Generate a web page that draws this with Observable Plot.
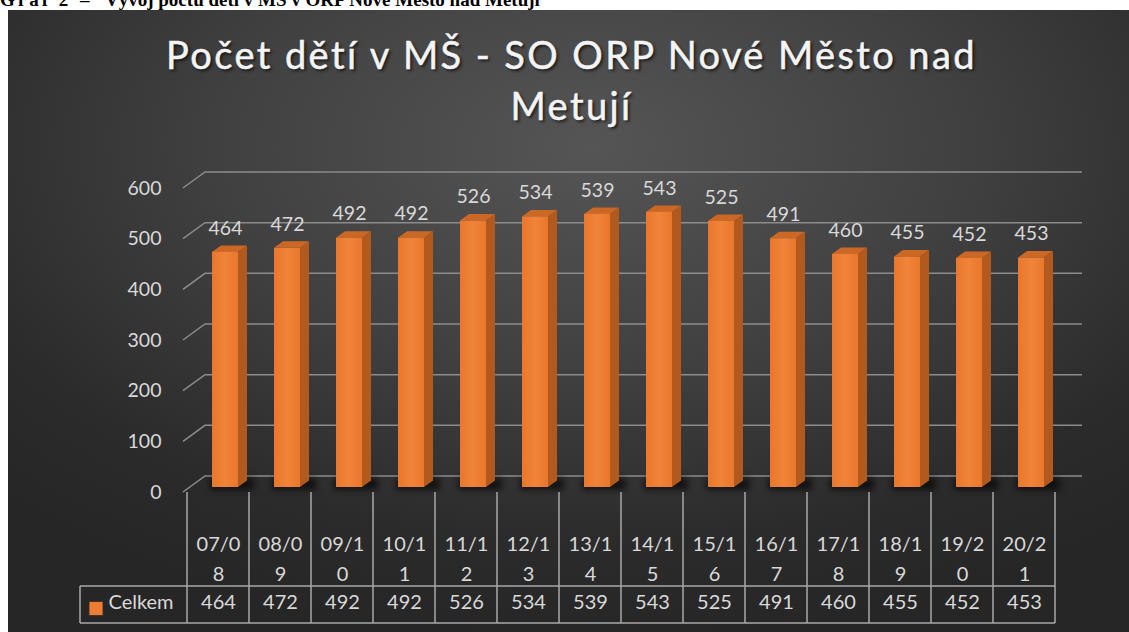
<!DOCTYPE html>
<html><head><meta charset="utf-8">
<script src="https://cdn.jsdelivr.net/npm/d3@7"></script>
<script src="https://cdn.jsdelivr.net/npm/@observablehq/plot@0.6"></script>
<style>
html,body{margin:0;padding:0;background:#fff;}
body{width:1129px;height:632px;position:relative;overflow:hidden;font-family:Lato,sans-serif;}
.cap{position:absolute;top:-10px;font:bold 19px/20px "Liberation Serif","Times New Roman",serif;white-space:pre;color:#000;}
#panel{position:absolute;left:8px;top:10px;width:1121px;height:622px;
  background:radial-gradient(ellipse 75% 80% at 52% 22%, #555555 0%, #404040 45%, #2b2b2b 80%, #262626 100%);}
#title{position:absolute;left:11px;width:1121px;top:29px;text-align:center;color:#f4f4f4;
  font-family:Lato,sans-serif;font-size:38px;line-height:51px;letter-spacing:2.4px;
  -webkit-text-stroke:0.5px #f4f4f4;
  text-shadow:2px 2px 3px rgba(0,0,0,0.65);}
#plot{position:absolute;left:0;top:140px;}
#plot svg{overflow:visible;background:transparent;}
</style></head><body>
<div class="cap" style="left:0;letter-spacing:3px;">Graf 2</div>
<div class="cap" style="left:80px;">–</div>
<div class="cap" style="left:105px;">Vývoj počtu dětí v MŠ v ORP Nové Město nad Metují</div>
<div id="panel"></div>
<div id="title">Počet dětí v MŠ - SO ORP Nové Město nad<br>Metují</div>
<div id="plot"></div>
<script>
const categories = ["07/08","08/09","09/10","10/11","11/12","12/13","13/14","14/15","15/16","16/17","17/18","18/19","19/20","20/21"];
const values = [464,472,492,492,526,534,539,543,525,491,460,455,452,453];
const yTicks = [0,100,200,300,400,500,600];
const seriesName = "Celkem";

const data = categories.map((c, i) => ({cat: c, value: values[i]}));

const ORANGE = "#EE7D31", SIDE = "#B25A1E", TOP = "#CC6826";
const GRID = "#8c8c8c", TABLE = "#a9a9a9", TXT = "#d9d9d9";
// 3D geometry (pixels)
const WALL_DX = 22, WALL_DY = 16, WALL_RIGHT = 1082;
const BAR_DX = 7, BAR_DY = 5, BAR_W = 26, DEPTH_X = 9, DEPTH_Y = 6.5;

function bandW(scales) { return scales.x(categories[1]) - scales.x(categories[0]); }

function gridRender(index, scales, values, dims) {
  const g = d3.create("svg:g");
  const x0 = dims.marginLeft;
  for (const i of index) {
    const y = scales.y(yTicks[i]);
    g.append("path")
      .attr("d", `M${x0},${y}L${x0 + WALL_DX},${y - WALL_DY}L${WALL_RIGHT},${y - WALL_DY}`)
      .attr("fill", "none").attr("stroke", GRID).attr("stroke-width", 1.5);
  }
  return g.node();
}

function barsRender(index, scales) {
  const g = d3.create("svg:g");
  const bw = bandW(scales);
  const defs = g.append("defs");
  defs.append("filter").attr("id", "shblur").attr("x", "-50%").attr("y", "-100%").attr("width", "200%").attr("height", "300%")
    .append("feGaussianBlur").attr("stdDeviation", 3);
  const grad = defs.append("linearGradient").attr("id", "frontg").attr("x1", 0).attr("x2", 1).attr("y1", 0).attr("y2", 0);
  grad.append("stop").attr("offset", "0%").attr("stop-color", "#E9772C");
  grad.append("stop").attr("offset", "50%").attr("stop-color", "#F0843A");
  grad.append("stop").attr("offset", "100%").attr("stop-color", "#E9772C");
  const yb = scales.y(0) - BAR_DY;
  for (const i of index) {
    const cx = scales.x(data[i].cat) + bw / 2 + BAR_DX;
    const l = cx - BAR_W / 2, r = cx + BAR_W / 2;
    g.append("rect").attr("x", l - 2).attr("y", yb - 9).attr("width", r - l + 18).attr("height", 12)
      .attr("fill", "#000").attr("opacity", 0.6).attr("filter", "url(#shblur)");
  }
  for (const i of index) {
    const cx = scales.x(data[i].cat) + bw / 2 + BAR_DX;
    const l = cx - BAR_W / 2, r = cx + BAR_W / 2;
    const yt = scales.y(data[i].value) - BAR_DY;
    g.append("path").attr("d", `M${r},${yt}L${r + DEPTH_X},${yt - DEPTH_Y}L${r + DEPTH_X},${yb - DEPTH_Y}L${r},${yb}Z`).attr("fill", SIDE);
    g.append("path").attr("d", `M${l},${yt}L${l + DEPTH_X},${yt - DEPTH_Y}L${r + DEPTH_X},${yt - DEPTH_Y}L${r},${yt}Z`).attr("fill", TOP);
    g.append("rect").attr("x", l).attr("y", yt).attr("width", r - l).attr("height", yb - yt).attr("fill", "url(#frontg)");
  }
  return g.node();
}

function tableRender(index, scales, values, dims) {
  const g = d3.create("svg:g").attr("stroke", TABLE).attr("stroke-width", 1.5).attr("fill", "none");
  const bw = bandW(scales);
  const top = scales.y(0);
  const bottom = dims.height - 9;
  const rowLine = bottom - 37;
  const left = 80;
  const x0 = scales.x(categories[0]);
  const xEnd = x0 + bw * categories.length;
  for (let k = 0; k <= categories.length; k++) {
    const x = x0 + k * bw;
    g.append("line").attr("x1", x).attr("x2", x).attr("y1", top).attr("y2", bottom);
  }
  g.append("line").attr("x1", left).attr("x2", xEnd).attr("y1", rowLine).attr("y2", rowLine);
  g.append("line").attr("x1", left).attr("x2", xEnd).attr("y1", bottom).attr("y2", bottom);
  g.append("line").attr("x1", left).attr("x2", left).attr("y1", rowLine).attr("y2", bottom);
  return g.node();
}

const plot = Plot.plot({
  width: 1129,
  height: 492,
  marginLeft: 183,
  marginRight: 70,
  marginTop: 48,
  marginBottom: 140,
  style: {background: "transparent", fontFamily: "Lato, sans-serif"},
  x: {type: "band", domain: categories, padding: 0, axis: null},
  y: {domain: [0, 600], axis: null},
  marks: [
    Plot.ruleY(yTicks, {y: d => d, render: gridRender}),
    Plot.axisY({ticks: yTicks, tickSize: 0, tickPadding: 22, label: null, fontSize: 19.5, fill: TXT, color: TXT}),
    Plot.barY(data, {x: "cat", y: "value", render: barsRender}),
    Plot.text(data, {x: "cat", y: "value", text: d => String(d.value), dx: BAR_DX, dy: -BAR_DY - 24, fontSize: 19.5, fill: TXT}),
    Plot.ruleX(categories, {x: d => d, render: tableRender}),
    Plot.text(categories, {x: d => d, text: d => d.slice(0, 4) + "\n" + d.slice(4), frameAnchor: "bottom", dy: 64, lineAnchor: "middle", lineHeight: 30 / 20, fontSize: 20, fill: TXT}),
    Plot.text(data, {x: "cat", text: d => String(d.value), frameAnchor: "bottom", dy: 116, fontSize: 20, fill: TXT}),
    Plot.dot([seriesName], {frameAnchor: "bottom-left", dx: 95.5 - 183, dy: 116, symbol: "square", r: 7.5, fill: ORANGE, stroke: null}),
    Plot.text([seriesName], {frameAnchor: "bottom-left", text: d => d, textAnchor: "start", dx: 108 - 183, dy: 116, fontSize: 20, fill: TXT})
  ]
});
document.getElementById("plot").appendChild(plot);
</script>
</body></html>
